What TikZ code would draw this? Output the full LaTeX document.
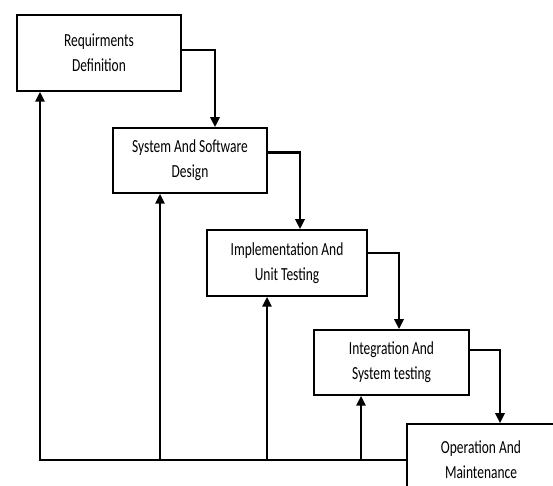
\documentclass[tikz,border=0pt]{standalone}
\usepackage{fontspec}
\setmainfont{Carlito}[FakeStretch=0.73]
\usetikzlibrary{arrows.meta}
\tikzset{
  box/.style={draw, line width=1.5bp, inner sep=0pt, align=center,
    font=\fontsize{18.5}{25}\selectfont},
  conn/.style={line width=2.8bp},
  arr/.style={conn, -{Triangle[length=10bp,width=9bp]}}
}
\begin{document}
\begin{tikzpicture}[x=1bp,y=1bp]
\useasboundingbox (0,0) rectangle (553,486);
\clip (0,0) rectangle (553,486);
\node[box, minimum width=164bp, minimum height=76bp] (b1) at (99,433) {Requirments\\Definition};
\node[box, minimum width=154bp, minimum height=65bp] (b2) at (190,325.5) {System And Software\\Design};
\node[box, minimum width=160bp, minimum height=66bp] (b3) at (287,223) {Implementation And\\Unit Testing};
\node[box, minimum width=155bp, minimum height=65bp] (b4) at (391.5,123.5) {Integration And\\System testing};
\node[box, minimum width=148bp, minimum height=72bp] (b5) at (481,26) {Operation And\\Maintenance};
% forward connectors
\coordinate (a2) at ([xshift=25bp]b2.north);
\coordinate (a3) at ([xshift=13bp]b3.north);
\coordinate (a4) at ([xshift=7.5bp]b4.north);
\coordinate (a5) at ([xshift=19bp]b5.north);
\draw[arr] ([yshift=3bp]b1.east) -| (a2);
\draw[arr] ([yshift=8bp]b2.east) -| (a3);
\draw[arr] ([yshift=10bp]b3.east) -| (a4);
\draw[arr] ([yshift=12.5bp]b4.east) -| (a5);
% feedback
\coordinate (f1) at ([xshift=-59bp]b1.south);
\coordinate (f2) at ([xshift=-30bp]b2.south);
\coordinate (f3) at ([xshift=-20bp]b3.south);
\coordinate (f4) at ([xshift=-30.5bp]b4.south);
\draw[arr] (b5.west) -| (f1);
\draw[arr] (f2 |- b5.west) -- (f2);
\draw[arr] (f3 |- b5.west) -- (f3);
\draw[arr] (f4 |- b5.west) -- (f4);
\end{tikzpicture}
\end{document}
